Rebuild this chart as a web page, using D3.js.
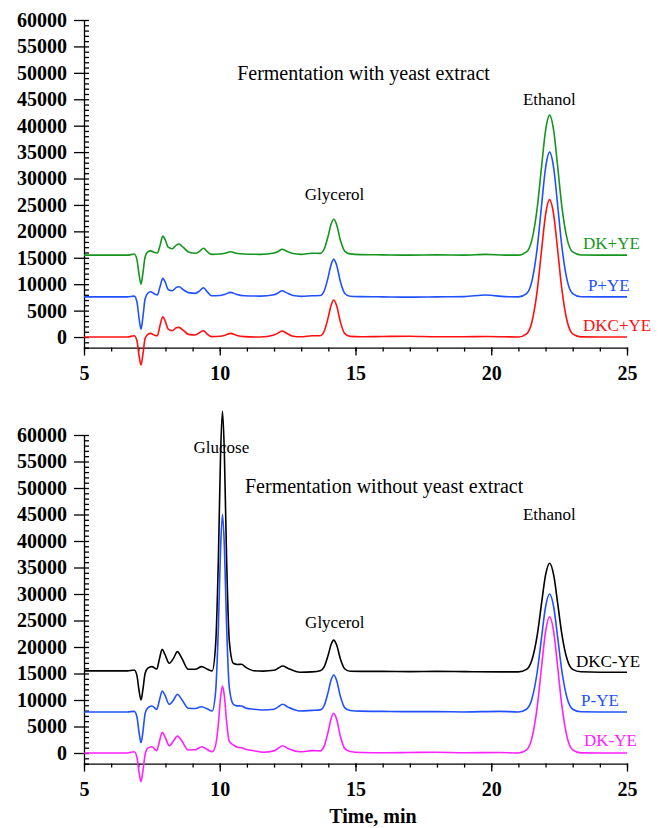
<!DOCTYPE html>
<html>
<head>
<meta charset="utf-8">
<script src="https://cdn.jsdelivr.net/npm/d3@7"></script>
<style>
  body { margin: 0; background: #fff; }
</style>
</head>
<body>
<div id="holder"></div>
<script>
// retention time grids (min)
var timeTop = [5, 6, 6.6, 6.85, 6.95, 7.03, 7.1, 7.17, 7.25, 7.35, 7.45, 7.6, 7.7, 7.8, 7.9, 8.0, 8.1, 8.25, 8.4, 8.5,
  8.65, 8.85, 9.1, 9.25, 9.4, 9.55, 9.7, 10.0, 10.2, 10.4, 10.6, 10.9, 11.5, 12.0, 12.15, 12.3, 12.45, 12.7, 13.0, 13.4,
  13.7, 13.85, 14.0, 14.1, 14.2, 14.3, 14.45, 14.6, 14.8, 15.2, 16, 17, 18, 19, 19.8, 20.5, 21.0, 21.3, 21.5, 21.7,
  21.85, 22.0, 22.15, 22.3, 22.45, 22.6, 22.8, 23.0, 23.3, 24, 25];

// with yeast extract
var dkYE = [15500, 15500, 15500, 15700, 14650, 11760, 10000, 12100, 15150, 16100, 16300, 16000, 15900, 17300, 19100, 18300, 17000, 16700, 17400, 17600,
  17000, 16100, 15850, 16200, 16800, 16100, 15650, 15700, 15850, 16150, 15850, 15700, 15650, 15900, 16200, 16600, 16300, 15800, 15650, 15850,
  15840, 16700, 19260, 21360, 22300, 21360, 18210, 16260, 15730, 15600, 15550, 15500, 15550, 15500, 15650, 15500, 15500, 16100, 18440, 24740,
  32090, 39080, 42000, 39080, 32090, 24740, 18440, 16100, 15530, 15500, 15500];
var pYE = [7600, 7600, 7600, 7750, 6650, 3450, 1500, 3800, 7200, 8300, 8580, 8150, 7950, 9500, 11100, 10300, 9000, 8750, 9400, 9530,
  9000, 8400, 8270, 8700, 9340, 8500, 7800, 7850, 8100, 8460, 8100, 7800, 7750, 8000, 8350, 8770, 8400, 7850, 7700, 7800,
  7850, 8760, 11480, 13700, 14700, 13700, 10370, 8300, 7730, 7650, 7600, 7550, 7600, 7650, 7950, 7650, 7600, 8230, 10640, 17160,
  24750, 31990, 35000, 31990, 24750, 17160, 10640, 8230, 7630, 7600, 7600];
var dkcYE = [0, 0, 0, 250, -700, -3600, -5300, -3300, -300, 500, 700, 350, 250, 2200, 3850, 2900, 1500, 1200, 1750, 1830,
  1300, 500, 380, 800, 1200, 500, 80, 150, 350, 700, 350, 80, 0, 400, 750, 1140, 750, 150, 50, 250,
  250, 1140, 3830, 6010, 7000, 6010, 2730, 690, 130, 50, 100, 150, 50, 50, 100, 50, 0, 600, 2890, 9070,
  16280, 23140, 26000, 23140, 16280, 9070, 2890, 600, 30, 0, 0];

var timeBottom = [5, 6, 6.6, 6.85, 6.95, 7.03, 7.1, 7.17, 7.25, 7.35, 7.5, 7.68, 7.78, 7.88, 7.98, 8.14, 8.3, 8.44, 8.6, 8.84,
  9.1, 9.33, 9.55, 9.72, 9.85, 9.95, 10.03, 10.1, 10.17, 10.25, 10.35, 10.5, 10.65, 10.8, 10.95, 11.25, 11.6, 12.0, 12.15, 12.32,
  12.5, 12.96, 13.4, 13.7, 13.85, 14.0, 14.1, 14.2, 14.3, 14.45, 14.6, 14.8, 15.2, 16, 17, 18, 19, 20.3, 21.0, 21.3,
  21.5, 21.7, 21.85, 22.0, 22.15, 22.3, 22.45, 22.6, 22.8, 23.0, 23.3, 24, 25];

// without yeast extract
var dkcNoYE = [15500, 15500, 15500, 15650, 14600, 11700, 10000, 12000, 15000, 16000, 16290, 15850, 17800, 19570, 18600, 16930, 17900, 19120, 17900, 15790,
  15800, 16290, 15800, 15470, 20560, 36700, 56300, 64500, 56600, 37100, 21260, 16930, 16700, 16740, 16200, 15530, 15450, 15600, 16000, 16420,
  16000, 15230, 15300, 15520, 16290, 18590, 20460, 21300, 20460, 17650, 15900, 15420, 15400, 15400, 15350, 15400, 15350, 15300, 15300, 15770,
  17580, 22450, 28130, 33550, 35800, 33550, 28130, 22450, 17580, 15770, 15320, 15250, 15250];
var pNoYE = [7750, 7750, 7750, 7850, 6800, 3800, 1940, 4000, 7400, 8500, 8870, 8250, 10000, 11700, 10900, 9190, 10000, 11080, 10100, 8440,
  8400, 8740, 8300, 7930, 11730, 23890, 38630, 45000, 39030, 24390, 12430, 9190, 8900, 8870, 8500, 8250, 8100, 8250, 8700, 9190,
  8700, 7930, 8050, 8140, 9010, 11630, 13760, 14720, 13760, 10560, 8570, 8030, 7900, 7850, 7800, 7800, 7750, 7850, 7750, 8260,
  10220, 15520, 21680, 27550, 30000, 27550, 21680, 15520, 10220, 8260, 7770, 7750, 7750];
var dkNoYE = [0, 0, 0, 250, -800, -3700, -5400, -3400, -300, 900, 1190, 440, 2200, 3900, 3100, 1380, 2300, 3210, 2300, 570,
  600, 1190, 600, 250, 1530, 5520, 10470, 12640, 10770, 6020, 2230, 1510, 1100, 1000, 700, 440, 130, 400, 900, 1380,
  900, 250, 440, 400, 1340, 4160, 6450, 7490, 6450, 3010, 870, 280, 100, 50, 100, 150, 50, 100, 0, 590,
  2850, 8970, 16090, 22870, 25700, 22870, 16090, 8970, 2850, 590, 30, 0, 0];

var xTicks = [5, 10, 15, 20, 25];
var yTicks = d3.range(0, 60001, 5000);

var serif = '"Times New Roman", "Liberation Serif", serif';

var svg = d3.select('#holder').append('svg').attr('width', 664).attr('height', 828)
  .style('font-family', serif);

var x = d3.scaleLinear().domain([5, 25]).range([84, 627]);

function drawPanel(p) {
  var y = d3.scaleLinear().domain([-2000, 60000]).range([p.bottom, p.top]);
  var g = svg.append('g');

  // y axis, major outward + minor inward
  var ya = g.append('g').attr('transform', 'translate(84,0)')
    .call(d3.axisLeft(y).tickValues(yTicks).tickSize(10).tickSizeOuter(0).tickPadding(7).tickFormat(d3.format('d')));
  g.append('g').attr('transform', 'translate(84,0)')
    .call(d3.axisRight(y).tickValues(d3.range(-2000, 60001, 1000)).tickSize(5).tickFormat(''))
    .select('.domain').remove();

  // x axis
  var xa = g.append('g').attr('transform', 'translate(0,' + p.bottom + ')')
    .call(d3.axisBottom(x).tickValues(xTicks).tickSize(8).tickSizeOuter(0).tickPadding(10));
  g.append('g').attr('transform', 'translate(0,' + p.bottom + ')')
    .call(d3.axisBottom(x).tickValues(d3.range(5, 26, 1)).tickSize(4).tickFormat(''))
    .select('.domain').remove();

  g.selectAll('g').attr('font-family', null).attr('font-size', null);
  [ya, xa].forEach(function(a) {
    a.selectAll('text').style('font-family', serif).style('font-size', '20px')
      .style('font-weight', 'bold').attr('fill', '#000');
  });
  g.selectAll('.domain, .tick line').attr('stroke', '#000').attr('stroke-width', 1.3);

  var line = d3.line()
    .x(function(d, i) { return x(p.time[i]); })
    .y(function(d) { return y(d); })
    .curve(d3.curveMonotoneX);

  p.series.forEach(function(s) {
    g.append('path').datum(s.values)
      .attr('d', line)
      .attr('fill', 'none')
      .attr('stroke', s.color)
      .attr('stroke-width', 1.6);
    g.append('text').attr('x', x(s.lx)).attr('y', y(s.ly))
      .style('font-family', serif).style('font-size', '17px').attr('fill', s.color).text(s.name);
  });

  p.peaks.forEach(function(a) {
    g.append('text').attr('x', x(a[1])).attr('y', y(a[2]))
      .attr('text-anchor', 'middle').style('font-family', serif).style('font-size', '17px').text(a[0]);
  });

  g.append('text').attr('x', x(p.title[1])).attr('y', y(p.title[2]))
    .style('font-family', serif).style('font-size', '20px').text(p.title[0]);
}

drawPanel({
  top: 20, bottom: 347.6, time: timeTop,
  title: ['Fermentation with yeast extract', 10.64, 48700],
  peaks: [['Glycerol', 14.23, 26000], ['Ethanol', 22.14, 44000]],
  series: [
    { name: 'DK+YE', values: dkYE, color: '#14961e', lx: 23.38, ly: 16670 },
    { name: 'P+YE', values: pYE, color: '#2050ff', lx: 23.56, ly: 8710 },
    { name: 'DKC+YE', values: dkcYE, color: '#ff1010', lx: 23.38, ly: 1140 }
  ]
});

drawPanel({
  top: 435, bottom: 763.6, time: timeBottom,
  title: ['Fermentation without yeast extract', 10.93, 49060],
  peaks: [['Glucose', 10.06, 56600], ['Glycerol', 14.24, 23600], ['Ethanol', 22.14, 44000]],
  series: [
    { name: 'DKC-YE', values: dkcNoYE, color: '#000000', lx: 23.12, ly: 16320 },
    { name: 'P-YE', values: pNoYE, color: '#2050ff', lx: 23.31, ly: 8870 },
    { name: 'DK-YE', values: dkNoYE, color: '#ff20ff', lx: 23.42, ly: 1320 }
  ]
});

svg.append('text').attr('x', 373).attr('y', 823).attr('text-anchor', 'middle')
  .style('font-family', serif).style('font-size', '20px').style('font-weight', 'bold').text('Time, min');
</script>
</body>
</html>
